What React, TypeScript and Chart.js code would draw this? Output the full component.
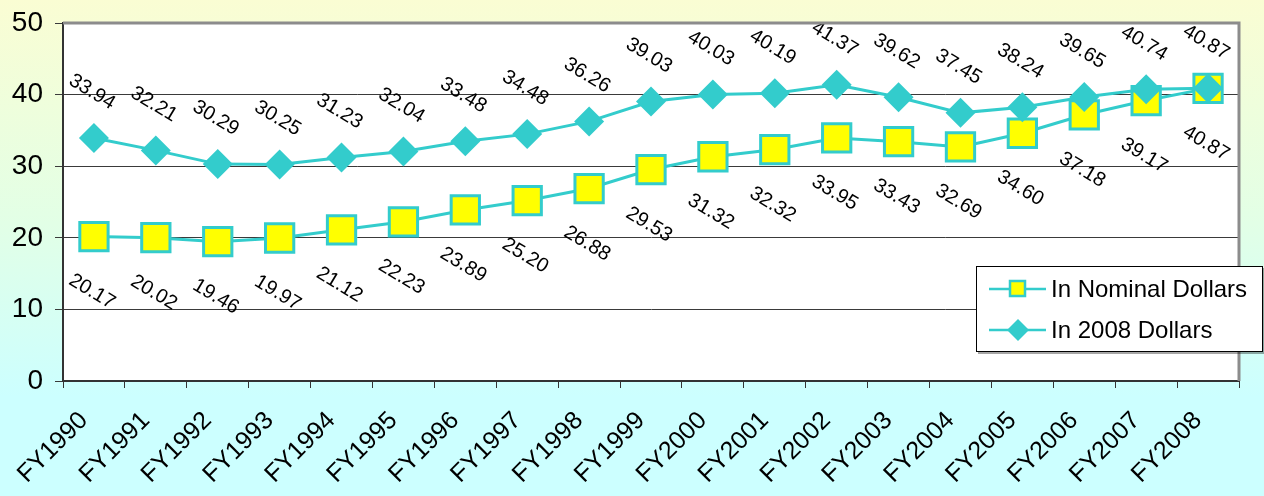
import React, { useEffect, useRef } from "react";
import { Chart, registerables } from "chart.js";

Chart.register(...registerables);

const categories = [
  "FY1990", "FY1991", "FY1992", "FY1993", "FY1994", "FY1995", "FY1996",
  "FY1997", "FY1998", "FY1999", "FY2000", "FY2001", "FY2002", "FY2003",
  "FY2004", "FY2005", "FY2006", "FY2007", "FY2008",
];
const nominalDollars = [
  20.17, 20.02, 19.46, 19.97, 21.12, 22.23, 23.89, 25.2, 26.88, 29.53,
  31.32, 32.32, 33.95, 33.43, 32.69, 34.6, 37.18, 39.17, 40.87,
];
const dollars2008 = [
  33.94, 32.21, 30.29, 30.25, 31.23, 32.04, 33.48, 34.48, 36.26, 39.03,
  40.03, 40.19, 41.37, 39.62, 37.45, 38.24, 39.65, 40.74, 40.87,
];
const seriesNames = ["In Nominal Dollars", "In 2008 Dollars"];
const yTicks = [0, 10, 20, 30, 40, 50];

const CYAN = "#33CCCC";
const YELLOW = "#FFFF00";
const FONT = "'Liberation Sans', Arial, sans-serif";

const plotBgPlugin = {
  id: "plotBg",
  beforeDraw(chart: any) {
    const { ctx, chartArea: a } = chart;
    ctx.save();
    ctx.fillStyle = "#FFFFFF";
    ctx.fillRect(a.left, a.top, a.right - a.left, a.bottom - a.top);
    ctx.restore();
  },
  afterDraw(chart: any) {
    const { ctx, chartArea: a } = chart;
    ctx.save();
    ctx.strokeStyle = "#8C8C8C";
    ctx.lineWidth = 3;
    ctx.beginPath();
    ctx.moveTo(a.left, a.top);
    ctx.lineTo(a.right, a.top);
    ctx.lineTo(a.right, a.bottom);
    ctx.stroke();
    ctx.restore();
  },
};

const labelPlugin = {
  id: "valueLabels",
  afterDatasetsDraw(chart: any) {
    const { ctx } = chart;
    ctx.save();
    ctx.font = `20px ${FONT}`;
    ctx.fillStyle = "#000";
    ctx.textAlign = "center";
    ctx.textBaseline = "middle";
    chart.data.datasets.forEach((ds: any, di: number) => {
      const meta = chart.getDatasetMeta(di);
      const dy = ds.labelOffset;
      meta.data.forEach((pt: any, i: number) => {
        const v = ds.data[i];
        ctx.save();
        ctx.translate(pt.x - 2, pt.y + dy);
        ctx.rotate((31 * Math.PI) / 180);
        ctx.fillText(v.toFixed(2), 0, 0);
        ctx.restore();
      });
    });
    ctx.restore();
  },
};

const legendPlugin = {
  id: "customLegend",
  afterDraw(chart: any) {
    const { ctx } = chart;
    const x = 976, y = 266, w = 287, h = 86;
    ctx.save();
    ctx.fillStyle = "rgba(0,0,0,0.35)";
    ctx.fillRect(x + 2, y + 2, w, h);
    ctx.fillStyle = "#FFFFFF";
    ctx.fillRect(x, y, w, h);
    ctx.strokeStyle = "#000";
    ctx.lineWidth = 1;
    ctx.strokeRect(x + 0.5, y + 0.5, w - 1, h - 1);
    ctx.font = `24px ${FONT}`;
    ctx.textBaseline = "middle";
    ctx.textAlign = "left";
    const rows = [y + 23, y + 64];
    rows.forEach((ry, i) => {
      ctx.strokeStyle = CYAN;
      ctx.lineWidth = 2.5;
      ctx.beginPath();
      ctx.moveTo(x + 13, ry);
      ctx.lineTo(x + 70, ry);
      ctx.stroke();
      if (i === 0) {
        ctx.fillStyle = YELLOW;
        ctx.fillRect(x + 34, ry - 8, 15, 15);
        ctx.strokeStyle = CYAN;
        ctx.lineWidth = 2.5;
        ctx.strokeRect(x + 34, ry - 8, 15, 15);
      } else {
        ctx.fillStyle = CYAN;
        ctx.beginPath();
        ctx.moveTo(x + 42, ry - 11);
        ctx.lineTo(x + 53, ry);
        ctx.lineTo(x + 42, ry + 11);
        ctx.lineTo(x + 31, ry);
        ctx.closePath();
        ctx.fill();
      }
      ctx.fillStyle = "#000";
      ctx.fillText(seriesNames[i], x + 75, ry + 1);
    });
    ctx.restore();
  },
};

export default function App() {
  const ref = useRef<HTMLCanvasElement>(null);
  useEffect(() => {
    if (!ref.current) return;
    const chart = new Chart(ref.current, {
      type: "line",
      data: {
        labels: categories,
        datasets: [
          {
            label: seriesNames[1],
            data: dollars2008,
            borderColor: CYAN,
            backgroundColor: CYAN,
            borderWidth: 3,
            pointStyle: "rectRot",
            pointRadius: 15,
            pointBorderWidth: 0,
            pointBackgroundColor: CYAN,
            pointBorderColor: CYAN,
            labelOffset: -46,
          } as any,
          {
            label: seriesNames[0],
            data: nominalDollars,
            borderColor: CYAN,
            backgroundColor: YELLOW,
            borderWidth: 3,
            pointStyle: "rect",
            pointRadius: 20,
            pointBorderWidth: 3,
            pointBackgroundColor: YELLOW,
            pointBorderColor: CYAN,
            labelOffset: 55,
          } as any,
        ],
      },
      options: {
        animation: false,
        responsive: false,
        maintainAspectRatio: false,
        layout: { padding: { top: 19, right: 25, left: 0, bottom: 0 } },
        plugins: {
          legend: { display: false },
          tooltip: { enabled: false },
          title: { display: false },
        },
        scales: {
          x: {
            type: "category",
            offset: true,
            grid: {
              offset: true,
              drawOnChartArea: false,
              drawTicks: true,
              tickLength: 7,
              color: "#333",
            },
            border: { color: "#333", width: 2 },
            ticks: {
              color: "#000",
              font: { family: FONT, size: 25 },
              maxRotation: 45,
              minRotation: 45,
              autoSkip: false,
              padding: 18,
              labelOffset: -10,
            },
            afterFit: (s: any) => {
              s.height = 115;
              s.paddingLeft = 0;
              s.paddingRight = 0;
            },
          },
          y: {
            min: 0,
            max: 50,
            afterBuildTicks: (s: any) => {
              s.ticks = yTicks.map((v) => ({ value: v }));
            },
            grid: {
              color: "#3A3A3A",
              lineWidth: 1,
              tickLength: 8,
              drawTicks: true,
            },
            border: { color: "#333", width: 2 },
            ticks: {
              color: "#000",
              font: { family: FONT, size: 28 },
              padding: 12,
            },
            afterFit: (s: any) => {
              s.width = 63;
              s.paddingTop = 0;
              s.paddingBottom = 0;
            },
          },
        },
      },
      plugins: [plotBgPlugin, labelPlugin, legendPlugin],
    });
    return () => chart.destroy();
  }, []);

  return (
    <div
      style={{
        position: "fixed",
        left: 0,
        top: 0,
        width: 1264,
        height: 496,
        background:
          "linear-gradient(to bottom, #FAFDD3 0%, #E2FFE6 45%, #CCFFFF 80%, #CCFFFF 100%)",
      }}
    >
      <canvas ref={ref} width={1264} height={496} style={{ display: "block" }} />
    </div>
  );
}
